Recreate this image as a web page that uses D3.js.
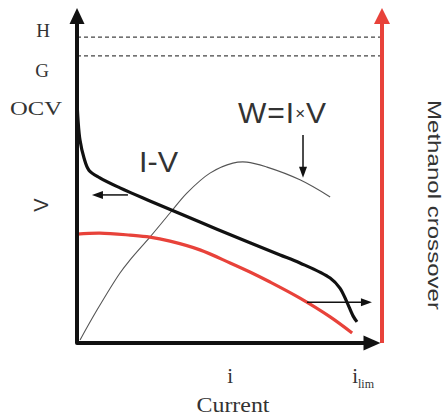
<!DOCTYPE html>
<html>
<head>
<meta charset="utf-8">
<script src="https://cdn.jsdelivr.net/npm/d3@7"></script>
<style>
  html, body { margin: 0; padding: 0; background: #fff; }
  svg { display: block; }
</style>
</head>
<body>
<svg id="chart" width="448" height="419"></svg>
<script>
// ---- data (abstract units: current 0..100, voltage 0..100) ----
const ivCurrent = [0, 0.33, 0.98, 2.3, 3.9, 7.5, 14.1, 23.9, 40.3, 56.7, 66.6, 73.1, 83.0, 86.2, 88.5, 90.5, 91.8];
const ivVoltage = [72.5, 66.6, 60.6, 55.2, 51.6, 49.3, 46.3, 42.4, 36.1, 29.9, 26.3, 23.9, 19.4, 16.4, 12.2, 8.1, 6.3];

const redCurrent = [0, 7.5, 17.4, 23.9, 30.5, 40.3, 50.2, 56.7, 63.3, 73.1, 83.0, 90.2];
const redVoltage = [32.5, 32.8, 32.2, 31.6, 30.4, 27.8, 23.9, 21.2, 18.2, 13.4, 7.8, 3.0];

const powerCurrent = [1.0, 6.6, 14.1, 17.4, 23.9, 30.5, 36.1, 43.6, 51.1, 55.7, 62.3, 73.1, 83.0];
const powerValue   = [0.9, 9.9, 20.9, 24.8, 31.6, 38.8, 44.8, 50.7, 53.7, 54.0, 52.5, 48.7, 43.6];

const levelNames  = ["H", "G"];
const levelValues = [91.3, 85.7];

const yLabels = ["H", "G", "OCV"];
const xTickLabels = ["i", "i"];
const xTickSubs = ["", "lim"];

// ---- scales ----
const x = d3.scaleLinear().domain([0, 100]).range([77, 382]);
const y = d3.scaleLinear().domain([0, 100]).range([343, 8]);

const svg = d3.select("#chart");
const RED = "#e8423a";
const INK = "#111";

function arrowHead(g, tip, dir, len, half, color) {
  const [tx, ty] = tip;
  const [dx, dy] = dir;
  const bx = tx - dx * len, by = ty - dy * len;
  const px = -dy, py = dx;
  g.append("path")
    .attr("d", `M${tx},${ty}L${bx + px * half},${by + py * half}L${bx - px * half},${by - py * half}Z`)
    .attr("fill", color);
}

// dashed levels
svg.selectAll("line.level").data(levelValues).enter().append("line")
  .attr("class", "level")
  .attr("x1", x(0)).attr("x2", x(100))
  .attr("y1", d => y(d)).attr("y2", d => y(d))
  .attr("stroke", "#444").attr("stroke-width", 1.2)
  .attr("stroke-dasharray", "4,3");

// curves
const line = d3.line().x(d => x(d[0])).y(d => y(d[1])).curve(d3.curveCatmullRom.alpha(0.5));

svg.append("path")
  .datum(powerCurrent.map((c, i) => [c, powerValue[i]]))
  .attr("d", line).attr("fill", "none")
  .attr("stroke", "#555").attr("stroke-width", 1.1);

svg.append("path")
  .datum(redCurrent.map((c, i) => [c, redVoltage[i]]))
  .attr("d", line).attr("fill", "none")
  .attr("stroke", RED).attr("stroke-width", 3.2);

svg.append("path")
  .datum(ivCurrent.map((c, i) => [c, ivVoltage[i]]))
  .attr("d", line).attr("fill", "none")
  .attr("stroke", INK).attr("stroke-width", 3.2).attr("stroke-linejoin", "round");

// red methanol crossover axis
svg.append("line")
  .attr("x1", x(100)).attr("x2", x(100))
  .attr("y1", y(0)).attr("y2", y(96))
  .attr("stroke", RED).attr("stroke-width", 4);
arrowHead(svg, [x(100), y(100)], [0, -1], 16, 8, RED);

// axes
svg.append("path")
  .attr("d", `M${x(0)},${y(96)}L${x(0)},${y(0)}L${x(95.5)},${y(0)}`)
  .attr("fill", "none").attr("stroke", INK).attr("stroke-width", 4)
  .attr("stroke-linejoin", "round");
arrowHead(svg, [x(0), y(100)], [0, -1], 16, 7.5, INK);
arrowHead(svg, [x(99.5), y(0)], [1, 0], 17, 7.5, INK);

// annotation arrows
const annArrows = [
  { from: [16.7, 44.2], to: [4.9, 44.2] },
  { from: [75.4, 12.2], to: [96.7, 12.2] },
  { from: [74.1, 62.1], to: [74.1, 49.3] }
];
annArrows.forEach(a => {
  const x1 = x(a.from[0]), y1 = y(a.from[1]), x2 = x(a.to[0]), y2 = y(a.to[1]);
  const L = Math.hypot(x2 - x1, y2 - y1);
  const ux = (x2 - x1) / L, uy = (y2 - y1) / L;
  svg.append("line")
    .attr("x1", x1).attr("y1", y1).attr("x2", x2 - ux * 8).attr("y2", y2 - uy * 8)
    .attr("stroke", INK).attr("stroke-width", 1.5);
  arrowHead(svg, [x2, y2], [ux, uy], 11, 4, INK);
});

// text
const serif = "'Liberation Serif', 'Times New Roman', serif";
const sans = "'Liberation Sans', Arial, sans-serif";
const TXT = "#333";

const yLabelPos = [[43, 37], [42, 77], [36, 115]];
yLabels.forEach((t, i) => {
  const tx = svg.append("text")
    .attr("x", yLabelPos[i][0]).attr("y", yLabelPos[i][1])
    .attr("text-anchor", "middle")
    .attr("font-family", serif).attr("font-size", 19)
    .attr("fill", TXT).text(t);
  if (t === "OCV") tx.attr("textLength", 52).attr("lengthAdjust", "spacingAndGlyphs");
});

// V axis title
svg.append("text")
  .attr("transform", "translate(48,205) rotate(-90)")
  .attr("text-anchor", "middle")
  .attr("font-family", sans).attr("font-size", 20)
  .attr("fill", TXT).text("V");

// x tick labels
const xTickPos = [50.2, 93.8];
xTickLabels.forEach((t, i) => {
  const tx = svg.append("text")
    .attr("x", x(xTickPos[i])).attr("y", 383)
    .attr("text-anchor", "middle")
    .attr("font-family", serif).attr("font-size", 21)
    .attr("fill", TXT);
  tx.append("tspan").text(t);
  if (xTickSubs[i]) {
    tx.append("tspan").attr("dy", 5).attr("font-size", 12).text(xTickSubs[i]);
  }
});

svg.append("text")
  .attr("x", 233).attr("y", 412)
  .attr("text-anchor", "middle")
  .attr("font-family", serif).attr("font-size", 21)
  .attr("textLength", 73).attr("lengthAdjust", "spacingAndGlyphs")
  .attr("fill", TXT).text("Current");

// curve labels
svg.append("text")
  .attr("x", 139).attr("y", 172)
  .attr("font-family", sans).attr("font-size", 29)
  .attr("textLength", 39).attr("lengthAdjust", "spacingAndGlyphs")
  .attr("fill", TXT).text("I-V");

const w = svg.append("text")
  .attr("x", 238).attr("y", 123)
  .attr("font-family", sans).attr("font-size", 30)
  .attr("letter-spacing", 1)
  .attr("fill", TXT);
w.append("tspan").text("W=I");
w.append("tspan").attr("font-size", 17).attr("dy", -4).text("×");
w.append("tspan").attr("dy", 4).text("V");

// right title
svg.append("text")
  .attr("transform", "translate(428,205) rotate(90)")
  .attr("text-anchor", "middle")
  .attr("font-family", sans).attr("font-size", 19)
  .attr("textLength", 210).attr("lengthAdjust", "spacingAndGlyphs")
  .attr("fill", TXT).text("Methanol crossover");
</script>
</body>
</html>
